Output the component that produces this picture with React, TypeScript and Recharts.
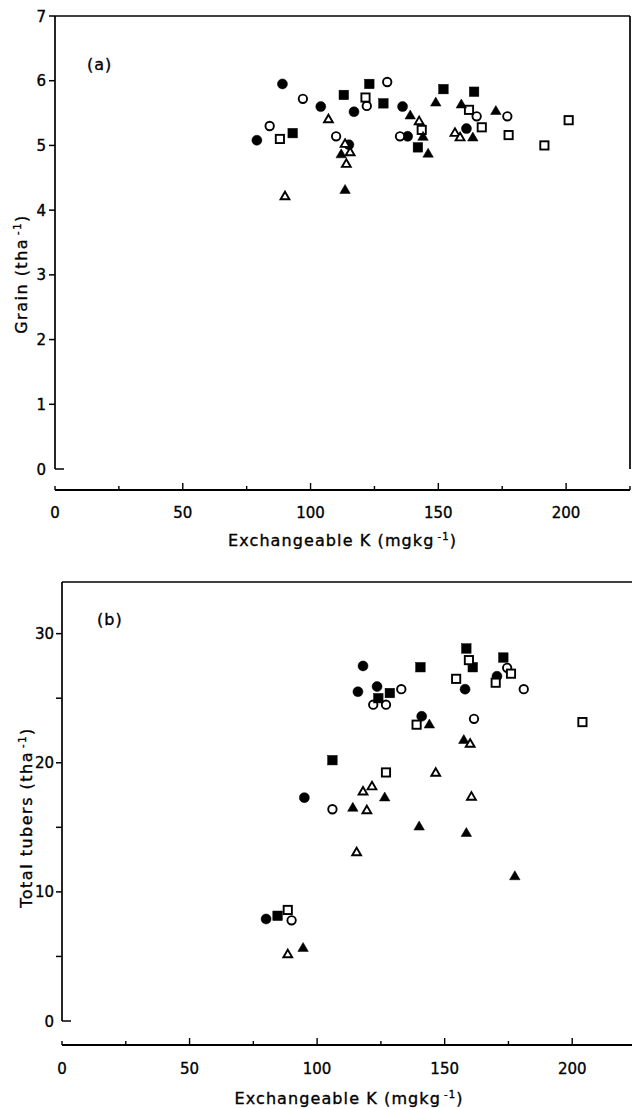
import React from 'react';
import { ScatterChart, Scatter, XAxis, YAxis, ReferenceLine } from 'recharts';

// [exchangeable K (mg/kg), yield (t/ha)]
type Pair = [number, number];

// (a) grain
const grainFilledCircle: Pair[] = [[79, 5.08], [89, 5.95], [104, 5.6], [115, 5.01], [117, 5.52], [136, 5.6], [138, 5.14], [161, 5.26]];
const grainOpenCircle: Pair[] = [[84, 5.3], [97, 5.72], [110, 5.14], [122, 5.61], [130, 5.98], [135, 5.14], [165, 5.45], [177, 5.45]];
const grainFilledSquare: Pair[] = [[93, 5.19], [113, 5.78], [123, 5.95], [128.5, 5.65], [142, 4.97], [152, 5.87], [164, 5.83]];
const grainOpenSquare: Pair[] = [[88, 5.1], [121.5, 5.74], [143.5, 5.24], [162, 5.55], [167, 5.28], [177.5, 5.16], [191.5, 5.0], [201, 5.39]];
const grainFilledTriangle: Pair[] = [[112, 4.87], [113.5, 4.32], [139, 5.47], [144, 5.14], [146, 4.88], [149, 5.67], [159, 5.64], [163.5, 5.13], [172.5, 5.54]];
const grainOpenTriangle: Pair[] = [[90, 4.22], [107, 5.41], [113.5, 5.03], [114, 4.72], [115.5, 4.9], [142.5, 5.38], [156.5, 5.2], [158.5, 5.13]];

// (b) total tubers
const tuberFilledCircle: Pair[] = [[80, 7.9], [95, 17.3], [116, 25.5], [118, 27.5], [123.5, 25.9], [141, 23.6], [158, 25.7], [170.5, 26.7]];
const tuberOpenCircle: Pair[] = [[90, 7.8], [106, 16.4], [122, 24.5], [127, 24.5], [133, 25.7], [161.5, 23.4], [174.5, 27.35], [181, 25.7]];
const tuberFilledSquare: Pair[] = [[84.5, 8.15], [106, 20.2], [124, 25.0], [128.5, 25.4], [140.5, 27.4], [158.5, 28.85], [161, 27.4], [173, 28.15]];
const tuberOpenSquare: Pair[] = [[88.5, 8.6], [127, 19.25], [139, 22.95], [154.5, 26.5], [159.5, 27.95], [170, 26.2], [176, 26.9], [204, 23.15]];
const tuberFilledTriangle: Pair[] = [[94.5, 5.7], [114, 16.55], [126.5, 17.35], [140, 15.1], [144, 23.0], [157.5, 21.8], [158.5, 14.6], [177.5, 11.25]];
const tuberOpenTriangle: Pair[] = [[88.5, 5.2], [115.5, 13.1], [118, 17.8], [119.5, 16.35], [121.5, 18.2], [146.5, 19.25], [160, 21.5], [160.5, 17.4]];

const kTicks = [0, 25, 50, 75, 100, 125, 150, 175, 200, 225];
const kLabels = [0, 50, 100, 150, 200];
const grainTicks = [0, 1, 2, 3, 4, 5, 6, 7];
const tuberTicks = [0, 5, 10, 15, 20, 25, 30];
const tuberLabels = [0, 10, 20, 30];

const FONT = '"DejaVu Sans", sans-serif';
// scanned print looks heavier than a plain regular weight
const ink = { stroke: '#000', strokeWidth: 0.35 };
const tickStyle = { fontFamily: FONT, fontSize: 15, fill: '#000', ...ink };

const toRows = (pairs: Pair[]) => pairs.map(([k, v]) => ({ k, v }));

type Kind = 'circle' | 'square' | 'triangle';

function marker(kind: Kind, filled: boolean) {
  return (props: any) => {
    const { cx, cy } = props;
    if (cx == null || cy == null) return <g />;
    const fill = filled ? '#000' : '#fff';
    const sw = filled ? 0.5 : 1.9;
    if (kind === 'circle') {
      return <circle cx={cx} cy={cy} r={filled ? 5 : 4.2} fill={fill} stroke="#000" strokeWidth={sw} />;
    }
    if (kind === 'square') {
      const s = filled ? 9.5 : 8.2;
      return <rect x={cx - s / 2} y={cy - s / 2} width={s} height={s} fill={fill} stroke="#000" strokeWidth={sw} />;
    }
    const h = filled ? 5 : 4.2;
    return (
      <polygon
        points={`${cx},${cy - h} ${cx + h * 1.05},${cy + h * 0.8} ${cx - h * 1.05},${cy + h * 0.8}`}
        fill={fill}
        stroke="#000"
        strokeWidth={sw}
      />
    );
  };
}

function xTick(labelDy: number) {
  return (props: any) => {
    const { x, y, payload } = props;
    const v = payload.value as number;
    const major = kLabels.includes(v);
    return (
      <g>
        <line x1={x} x2={x} y1={y} y2={y - (major && v !== 0 ? 7 : 4)} stroke="#000" strokeWidth={1.4} />
        {major && (
          <text x={x} y={y + labelDy} textAnchor="middle" style={tickStyle}>
            {v}
          </text>
        )}
      </g>
    );
  };
}

function yTick(labels: number[], gap: number) {
  return (props: any) => {
    const { x, y, payload } = props;
    const v = payload.value as number;
    return (
      <g>
        {v === 0 ? (
          <line x1={x} x2={x + 9} y1={y} y2={y} stroke="#000" strokeWidth={1.5} />
        ) : (
          <line x1={x - 6} x2={x} y1={y} y2={y} stroke="#000" strokeWidth={1.5} />
        )}
        {labels.includes(v) && (
          <text x={x - gap} y={y} dy={5.5} textAnchor="end" style={tickStyle}>
            {v}
          </text>
        )}
      </g>
    );
  };
}

const titleStyle = { fontFamily: FONT, fontSize: 16, fill: '#000', letterSpacing: 1.1, ...ink };

function XTitle(props: any) {
  const { viewBox, dy } = props;
  const x = viewBox.x + viewBox.width / 2;
  const y = viewBox.y + dy;
  return (
    <text x={x} y={y} textAnchor="middle" style={titleStyle}>
      Exchangeable K (mgkg
      <tspan fontSize={10} dx={3} dy={-6}>-1</tspan>
      <tspan dy={6}>)</tspan>
    </text>
  );
}

function YTitle(props: any) {
  const { viewBox, name, cx, dy } = props;
  const x = viewBox.x + cx;
  const y = viewBox.y + viewBox.height / 2 + dy;
  return (
    <text x={x} y={y} transform={`rotate(-90, ${x}, ${y})`} textAnchor="middle" style={{ ...titleStyle, letterSpacing: 1.5 }}>
      {name} (tha
      <tspan fontSize={10} dx={3} dy={-6}>-1</tspan>
      <tspan dy={6}>)</tspan>
    </text>
  );
}

type Series = { data: Pair[]; kind: Kind; filled: boolean };

const grainSeries: Series[] = [
  { data: grainFilledCircle, kind: 'circle', filled: true },
  { data: grainOpenCircle, kind: 'circle', filled: false },
  { data: grainFilledSquare, kind: 'square', filled: true },
  { data: grainOpenSquare, kind: 'square', filled: false },
  { data: grainFilledTriangle, kind: 'triangle', filled: true },
  { data: grainOpenTriangle, kind: 'triangle', filled: false },
];

const tuberSeries: Series[] = [
  { data: tuberFilledCircle, kind: 'circle', filled: true },
  { data: tuberOpenCircle, kind: 'circle', filled: false },
  { data: tuberFilledSquare, kind: 'square', filled: true },
  { data: tuberOpenSquare, kind: 'square', filled: false },
  { data: tuberFilledTriangle, kind: 'triangle', filled: true },
  { data: tuberOpenTriangle, kind: 'triangle', filled: false },
];

const frame = { stroke: '#000', strokeWidth: 1.7 };

function Panel(props: {
  width: number;
  height: number;
  top: number;
  yWidth: number;
  xHeight: number;
  right: number;
  yMax: number;
  ticks: number[];
  labels: number[];
  labelGap: number;
  pad: number;
  series: Series[];
  name: string;
  titleCx: number;
  titleDy: number;
  xLabelDy: number;
  xTitleDy: number;
}) {
  const p = props;
  return (
    <ScatterChart width={p.width} height={p.height} margin={{ top: p.top, right: p.right, bottom: 0, left: 0 }}>
      <XAxis
        type="number"
        dataKey="k"
        domain={[0, 225]}
        ticks={kTicks}
        interval={0}
        allowDataOverflow
        height={p.xHeight}
        tickSize={0}
        tickMargin={0}
        tickLine={false}
        axisLine={{ stroke: '#000', strokeWidth: 1.8 }}
        tick={xTick(p.xLabelDy)}
        label={(lp: any) => <XTitle viewBox={lp.viewBox} dy={p.xTitleDy} />}
      />
      <YAxis
        type="number"
        dataKey="v"
        domain={[0, p.yMax]}
        ticks={p.ticks}
        interval={0}
        allowDataOverflow
        width={p.yWidth}
        padding={{ top: 0, bottom: p.pad }}
        tickSize={0}
        tickMargin={0}
        tickLine={false}
        axisLine={false}
        tick={yTick(p.labels, p.labelGap)}
        label={(lp: any) => <YTitle viewBox={lp.viewBox} name={p.name} cx={p.titleCx} dy={p.titleDy} />}
      />
      <ReferenceLine segment={[{ x: 0, y: 0 }, { x: 0, y: p.yMax }]} {...frame} />
      <ReferenceLine y={p.yMax} {...frame} />
      <ReferenceLine segment={[{ x: 225, y: 0 }, { x: 225, y: p.yMax }]} {...frame} />
      {p.series.map((s, i) => (
        <Scatter key={i} data={toRows(s.data)} shape={marker(s.kind, s.filled)} isAnimationActive={false} />
      ))}
    </ScatterChart>
  );
}

const panelLetter = {
  position: 'absolute' as const,
  fontFamily: FONT,
  fontSize: 16,
  lineHeight: '18px',
  letterSpacing: 1,
  WebkitTextStroke: '0.35px #000',
};

export default function App() {
  return (
    <div style={{ position: 'absolute', left: 0, top: 0, width: 632, height: 1109, overflow: 'hidden', background: '#fff' }}>
      <div style={{ position: 'absolute', left: 0, top: 0 }}>
        <Panel
          width={632}
          height={555}
          top={16}
          right={2}
          yWidth={55}
          xHeight={65}
          yMax={7}
          ticks={grainTicks}
          labels={grainTicks}
          labelGap={9}
          pad={21}
          series={grainSeries}
          name="Grain"
          titleCx={27}
          titleDy={21}
          xLabelDy={27.5}
          xTitleDy={55.5}
        />
      </div>
      <div style={{ position: 'absolute', left: 0, top: 555 }}>
        <Panel
          width={640}
          height={554}
          top={27}
          right={4}
          yWidth={62}
          xHeight={64}
          yMax={34}
          ticks={tuberTicks}
          labels={tuberLabels}
          labelGap={8}
          pad={24}
          series={tuberSeries}
          name="Total tubers"
          titleCx={32}
          titleDy={4}
          xLabelDy={28.5}
          xTitleDy={58.5}
        />
      </div>
      <div style={{ ...panelLetter, left: 87, top: 56 }}>(a)</div>
      <div style={{ ...panelLetter, left: 97, top: 611 }}>(b)</div>
    </div>
  );
}
